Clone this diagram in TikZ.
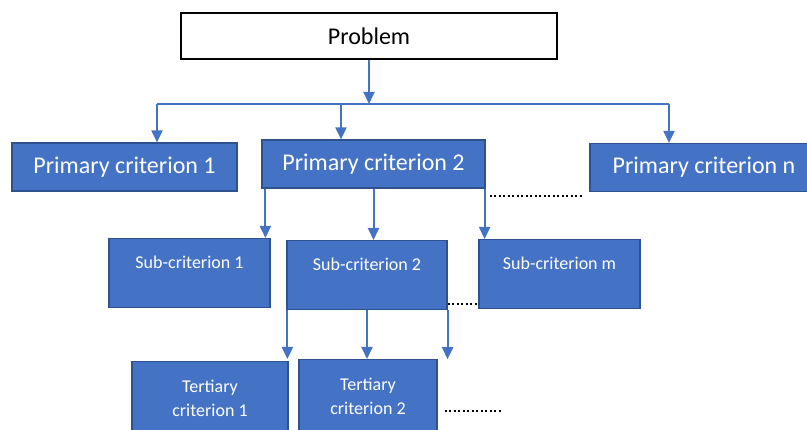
\documentclass[tikz,border=0pt]{standalone}
\usepackage{fontspec}
\setmainfont{Carlito}
\usetikzlibrary{arrows.meta,positioning}
\definecolor{ofblue}{HTML}{4472C4}
\definecolor{ofdark}{HTML}{2F528F}

\begin{document}
\begin{tikzpicture}[x=1pt,y=-1pt,
	box/.style={fill=ofblue,draw=ofdark,line width=1.2pt,text=white,inner sep=0pt},
	prim/.style={box,minimum height=48pt,font=\fontsize{24}{29}\selectfont},
	sub/.style={box,anchor=north,text height=30pt,text depth=39pt,font=\fontsize{18}{22}\selectfont},
	tert/.style={box,anchor=north,minimum height=74pt,align=center,font=\fontsize{18}{24}\selectfont},
	link/.style={draw=ofblue,line width=2pt},
	arr/.style={link,-{Triangle[width=11pt,length=12pt]}},
	dots/.style={line width=2pt,dash pattern=on 2pt off 2.5pt}]
	\useasboundingbox (0,0) rectangle (807,430);
	\clip (0,0) rectangle (807,430);
	\node[draw=black,line width=2pt,fill=white,minimum width=376pt,minimum height=46pt,inner sep=0pt,font=\fontsize{24}{29}\selectfont] (prob) at (369,36) {Problem};
	\node[prim,minimum width=225pt] (p1) at (124.5,167) {Primary criterion 1};
	\node[prim,minimum width=223pt] (p2) at (373.5,164) {Primary criterion 2};
	\node[prim,minimum width=228pt] (pn) at (704,167.5) {Primary criterion n};
	\node[sub,minimum width=161pt] (s1) at (189.5,238) {Sub-criterion 1};
	\node[sub,minimum width=160pt] (s2) at (367,240) {Sub-criterion 2};
	\node[sub,minimum width=161pt] (sm) at (559.5,239) {Sub-criterion m};
	\node[tert,minimum width=156pt] (t1) at (210,361) {Tertiary\\criterion 1};
	\node[tert,minimum width=138pt] (t2) at (368,359) {Tertiary\\criterion 2};
	\coordinate (bl) at (157,104);
	\coordinate (bm) at (341,104);
	\coordinate (br) at (669,104);
	\coordinate (ed) at ([yshift=-49pt]s2.south east);
	\draw [link] (bl) -- (br);
	\draw [arr] (prob) -- (prob.south |- bl);
	\draw [arr] (bl) -- (bl |- p1.north);
	\draw [arr] (bm) -- (bm |- p2.north);
	\draw [arr] (br) -- (br |- pn.north);
	\draw [arr] ([xshift=4pt]p2.south west) -- ([xshift=4pt]p2.south west |- s1.north);
	\draw [arr] (p2.south) -- (p2.south |- s2.north);
	\draw [arr] ([xshift=-1pt]p2.south east) -- ([xshift=-1pt]p2.south east |- sm.north);
	\draw [arr,shorten >=2pt] ([xshift=1pt]s2.south west) -- ([xshift=1pt]s2.south west |- t1.north);
	\draw [arr] (s2.south) -- (s2.south |- t2.north);
	\draw [arr] (s2.south east) -- (ed);
	\draw [dots,shorten <=4pt,shorten >=7pt] ([yshift=-7pt]p2.south east) -- ([yshift=-7pt]p2.south east -| pn.west);
	\draw [dots] ([yshift=6pt]s2.south east) -- ([yshift=6pt]s2.south east -| sm.west);
	\draw [dots] ([xshift=7pt,yshift=-14pt]t2.east) -- +(58,0);
\end{tikzpicture}
\end{document}
